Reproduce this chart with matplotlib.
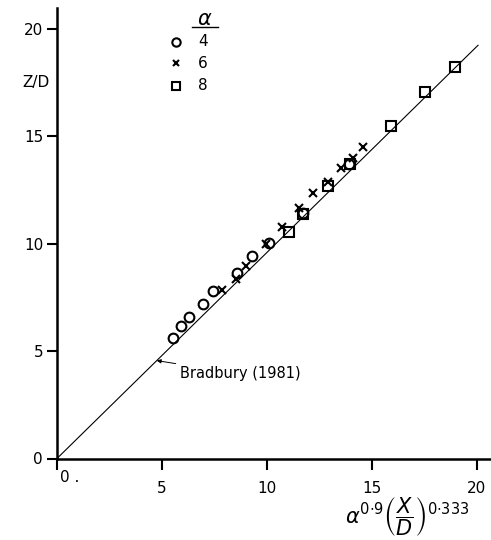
import matplotlib
matplotlib.use("Agg")
import matplotlib.pyplot as plt
import numpy as np

# alpha = 4, 6, 8 data sets: (scaled distance, Z/D)
x_a4 = [5.5, 5.9, 6.3, 6.95, 7.45, 8.55, 9.3, 10.1, 11.7, 13.9]
z_a4 = [5.6, 6.15, 6.6, 7.2, 7.8, 8.65, 9.45, 10.05, 11.45, 13.7]

x_a6 = [7.85, 8.5, 9.0, 9.95, 10.7, 11.5, 12.2, 12.9, 13.5, 14.1, 14.55]
z_a6 = [7.85, 8.35, 8.95, 10.0, 10.8, 11.65, 12.35, 12.9, 13.55, 14.0, 14.5]

x_a8 = [11.05, 11.7, 12.9, 13.95, 15.9, 17.5, 18.95]
z_a8 = [10.55, 11.4, 12.7, 13.7, 15.5, 17.05, 18.25]

alpha_labels = ["4", "6", "8"]

# Bradbury (1981) correlation
bradbury_slope = 0.96
bradbury_x = [0.0, 20.05]

fig = plt.figure(figsize=(4.91, 5.40), dpi=100)
ax = fig.add_axes([57 / 491, 1 - 458.5 / 540, 434 / 491, 450.5 / 540])
ax.set_xlim(0, 434 / 21)
ax.set_ylim(0, 450.5 / 21.47)

for s in ["top", "right"]:
    ax.spines[s].set_visible(False)
for s in ["left", "bottom"]:
    ax.spines[s].set_linewidth(1.8)

bx = np.array(bradbury_x)
ax.plot(bx, bradbury_slope * bx, color="black", lw=0.8)

mk = dict(linestyle="none", color="black", mfc="none", mew=1.5, clip_on=False)
ax.plot(x_a4, z_a4, marker="o", ms=7, **mk)
ax.plot(x_a6, z_a6, marker="x", ms=6, **mk)
ax.plot(x_a8, z_a8, marker="s", ms=6.5, **mk)

# key
key_y = [19.4, 18.42, 17.35]
for m, ms, ky, lab in zip(["o", "x", "s"], [6, 5, 5.5], key_y, alpha_labels):
    ax.plot([5.67], [ky], marker=m, ms=ms, **mk)
    ax.text(6.95, ky, lab, fontsize=11, ha="center", va="center")
ax.text(7.05, 20.45, r"$\alpha$", fontsize=15, ha="center", va="center")
ax.plot([6.43, 7.67], [20.08, 20.08], color="black", lw=1.0, clip_on=False)

ax.annotate("Bradbury (1981)", xy=(4.75, bradbury_slope * 4.75), xytext=(5.85, 3.94),
            fontsize=10.5, ha="left", va="center",
            arrowprops=dict(arrowstyle="-|>", color="black", lw=0.7,
                            mutation_scale=6, shrinkA=1, shrinkB=0))

ax.set_yticks([0, 5, 10, 15, 20])
ax.set_yticklabels(["0", "5", "10", "15", "20"], fontsize=11)
ax.set_xticks([0, 5, 10, 15, 20])
ax.set_xticklabels(["", "5", "10", "15", "20"], fontsize=11)
ax.tick_params(axis="y", direction="out", length=7, width=1.5, pad=3)
ax.tick_params(axis="x", direction="out", length=8, width=1.5, pad=8)
ax.text(0.15, -0.9, "0 .", fontsize=11, ha="left", va="center")

ax.text(-1.0, 17.5, "Z/D", fontsize=11, ha="center", va="center", clip_on=False)

fig.text(407 / 491, 1 - 516 / 540,
         r"$\alpha^{0{\cdot}9}\left(\dfrac{X}{D}\right)^{0{\cdot}333}$",
         fontsize=15, ha="center", va="center")

fig.savefig("out.png", dpi=100)
